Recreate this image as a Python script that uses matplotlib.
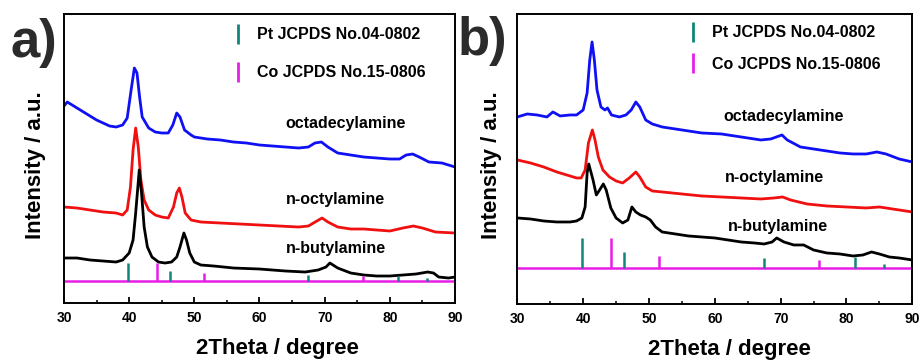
import matplotlib
matplotlib.use("Agg")
import matplotlib.pyplot as plt
from matplotlib.lines import Line2D
from matplotlib.ticker import MultipleLocator

plt.rcParams['font.family'] = ['Liberation Sans', 'DejaVu Sans']

# ---------------- Panel a data ----------------
a_oct_x = [30, 30.5, 32, 33, 35, 36, 37, 38, 39, 39.7, 40.3, 40.8, 41.2, 41.6, 42, 43, 44, 45, 46, 46.7,
           47.3, 47.8, 48.5, 49.5, 50, 52, 54, 56, 58, 60, 62, 64, 66, 67.5, 68.5, 69.5, 70.5, 72, 74, 76,
           78, 80, 81.5, 82.5, 83.5, 84.5, 86, 88, 90]
a_oct_y = [197, 201, 195, 191, 183, 180, 177, 176, 178, 185, 213, 235, 230, 206, 186, 175, 171, 170, 170, 178,
           190, 186, 173, 168, 166, 164, 163, 161, 160, 158, 157, 156, 155, 156, 160, 161, 156, 150, 148, 146,
           145, 144, 144, 148, 149, 146, 141, 140, 136]

a_octyl_x = [30, 32, 34, 36, 38, 39, 39.7, 40.2, 40.6, 41.0, 41.4, 41.8, 42.3, 43, 44, 45, 46, 46.8, 47.3,
             47.7, 48.1, 48.6, 49.5, 51, 54, 57, 60, 63, 66, 67.5, 68.8, 69.6, 70.5, 72, 74, 76, 78, 80, 82,
             83.6, 85, 87, 90]
a_octyl_y = [96, 95, 93, 91, 90, 88, 93, 116, 153, 175, 156, 123, 103, 93, 88, 86, 85, 96, 110,
             115, 106, 90, 83, 81, 80, 79, 78, 77, 76, 77, 82, 85, 81, 76, 74, 74, 73, 72, 75,
             77, 75, 71, 70]

a_but_x = [30, 32, 34, 36, 38, 39, 40, 40.6, 41, 41.55, 41.9, 42.3, 42.8, 43.5, 44.5, 45.5, 46.5, 47.3, 47.8,
           48.4, 48.8, 49.3, 50, 51, 53, 56, 60, 64, 67, 69, 70.2, 70.8, 72, 74, 76, 78, 80, 82, 84, 85.8,
           86.7, 87.5, 89, 90]
a_but_y = [45, 45, 43, 42, 41, 43, 50, 63, 90, 133, 110, 76, 56, 46, 41, 40, 41, 46, 56,
           70, 63, 50, 41, 38, 37, 35, 34, 32, 31, 33, 36, 40, 35, 30, 28, 27, 27, 28, 29, 31,
           30, 26, 25, 26]

# ---------------- Panel b data ----------------
b_oct_x = [30, 31.5, 33, 34.5, 35.4, 36.5, 38, 39, 40, 40.6, 41.0, 41.35, 41.7, 42.1, 42.7, 43.3, 43.7, 44.3,
           45.5, 46.5, 47.3, 48.0, 48.6, 49.5, 50.5, 52, 55, 58, 61, 64, 67, 68.5, 70.2, 71, 73, 75, 77, 79,
           81, 83, 84.6, 86, 88, 90]
b_oct_y = [187, 190, 189, 187, 192, 188, 189, 189, 194, 211, 244, 262, 244, 214, 197, 194, 196, 189,
           187, 189, 194, 202, 197, 184, 180, 177, 174, 171, 170, 167, 164, 165, 169, 164, 157, 155, 153, 151,
           150, 150, 152, 150, 145, 142]

b_octyl_x = [30, 32, 34, 36, 38, 39, 39.7, 40.3, 40.8, 41.4, 41.8, 42.3, 43, 44, 45, 46, 47, 48.0, 48.6,
             49.5, 50.5, 52, 55, 58, 61, 64, 67, 69, 70.3, 71.5, 74, 77, 80, 83, 85, 87, 90]
b_octyl_y = [144, 141, 137, 132, 128, 126, 126, 134, 161, 174, 164, 147, 134, 127, 123, 121, 126, 132, 127,
             117, 113, 112, 110, 108, 107, 106, 105, 106, 107, 104, 100, 98, 97, 96, 97, 95, 92]

b_but_x = [30, 32, 34, 36, 38, 39, 39.8, 40.3, 40.6, 40.85, 41.5, 42.0, 42.5, 43.06, 43.5, 44.2, 45, 46, 46.8,
           47.4, 48, 48.7, 49.5, 50.2, 51, 52, 54, 56, 58, 60, 62, 64, 66, 67.5, 68.7, 69.4, 70.5, 72, 73.5,
           75, 77, 79, 81, 82.5, 83.8, 85, 86.5, 88, 90]
b_but_y = [86, 85, 83, 82, 82, 83, 86, 97, 131, 140, 124, 109, 114, 120, 114, 96, 86, 81, 84,
           97, 92, 89, 87, 84, 77, 72, 70, 68, 67, 66, 64, 62, 61, 60, 62, 66, 62, 59, 59,
           54, 51, 50, 48, 49, 52, 50, 47, 46, 44]

# ---------------- Reference sticks ----------------
pt_pos = [39.76, 46.24, 67.45, 81.29, 85.71]
co_pos = [44.22, 51.52, 75.85]
a_base = 22.3
a_pt_h = [18, 10, 5.7, 5, 3]
a_co_h = [18, 7.6, 4.7]
b_base = 36.3
b_pt_h = [30, 16, 10, 11, 4]
b_co_h = [30, 12, 7.7]

names = ["octadecylamine", "n-octylamine", "n-butylamine"]
a_label_x = [64.0, 64.0, 64.0]
a_label_y = [179.7, 103.7, 54.7]
b_label_x = [61.3, 61.55, 62.05]
b_label_y = [187.3, 126.3, 77.3]

legend_labels = ["Pt JCPDS No.04-0802", "Co JCPDS No.15-0806"]
xticks = [30, 40, 50, 60, 70, 80, 90]

BLUE = '#1010f5'
RED = '#f01010'
BLACK = '#000000'
TEAL = '#12857a'
MAG = '#e61ee6'

fig = plt.figure(figsize=(9.22, 3.6), dpi=100)
axa = fig.add_axes([0.0694, 0.1583, 0.4241, 0.8028])
axb = fig.add_axes([0.5611, 0.1556, 0.4284, 0.8056])

panels = [
    (axa, [(a_oct_x, a_oct_y, BLUE), (a_octyl_x, a_octyl_y, RED), (a_but_x, a_but_y, BLACK)],
     a_base, a_pt_h, a_co_h, a_label_x, a_label_y, 289, (0.4246, 0.954), 1.44),
    (axb, [(b_oct_x, b_oct_y, BLUE), (b_octyl_x, b_octyl_y, RED), (b_but_x, b_but_y, BLACK)],
     b_base, b_pt_h, b_co_h, b_label_x, b_label_y, 290, (0.4246, 0.961), 1.03),
]

for ax, curves, base, pt_h, co_h, lx, ly, ytop, lanchor, lspace in panels:
    for x, y, c in curves:
        ax.plot(x, y, color=c, lw=2.0, solid_joinstyle='round')
    ax.axhline(base, color=MAG, lw=1.8, zorder=1)
    ax.vlines(pt_pos, base, [base + h for h in pt_h], color=TEAL, lw=1.8, zorder=2)
    ax.vlines(co_pos, base, [base + h for h in co_h], color=MAG, lw=1.8, zorder=2)
    for n, xx, yy in zip(names, lx, ly):
        ax.text(xx, yy, n, fontsize=11.5, fontweight='bold', ha='left', va='center')
    ax.set_xlim(30, 90)
    ax.set_ylim(0, ytop)
    ax.set_xticks(xticks)
    ax.xaxis.set_minor_locator(MultipleLocator(5))
    ax.set_yticks([])
    ax.tick_params(axis='x', which='major', direction='in', length=4, width=1.3,
                   labelsize=10, pad=6)
    ax.tick_params(axis='x', which='minor', direction='in', length=2.5, width=1.1)
    for lab in ax.get_xticklabels():
        lab.set_fontweight('bold')
    for sp in ax.spines.values():
        sp.set_linewidth(1.4)
    handles = [Line2D([], [], color=TEAL, marker='|', linestyle='None', markersize=15, mew=2),
               Line2D([], [], color=MAG, marker='|', linestyle='None', markersize=15, mew=2)]
    leg = ax.legend(handles, legend_labels, loc='upper left', bbox_to_anchor=lanchor,
                    frameon=False, borderpad=0, borderaxespad=0, handlelength=1.0,
                    handletextpad=0.7, labelspacing=lspace,
                    prop={'weight': 'bold', 'size': 11.5})

fig.text(0.039, 0.542, "Intensity / a.u.", rotation=90, ha='center', va='center',
         fontsize=16, fontweight='bold')
fig.text(0.5336, 0.542, "Intensity / a.u.", rotation=90, ha='center', va='center',
         fontsize=16, fontweight='bold')
fig.text(277 / 922, 0.018, "2Theta / degree", ha='center', va='baseline',
         fontsize=16, fontweight='bold')
fig.text(729 / 922, 0.014, "2Theta / degree", ha='center', va='baseline',
         fontsize=16, fontweight='bold')

fig.text(10 / 922, 1 - 57 / 360, "a)", ha='left', va='baseline', fontsize=38,
         fontweight='bold', color='#2b2b2b')
fig.text(458 / 922, 1 - 55 / 360, "b)", ha='left', va='baseline', fontsize=38,
         fontweight='bold', color='#2b2b2b')

fig.savefig("out.png", dpi=100)
